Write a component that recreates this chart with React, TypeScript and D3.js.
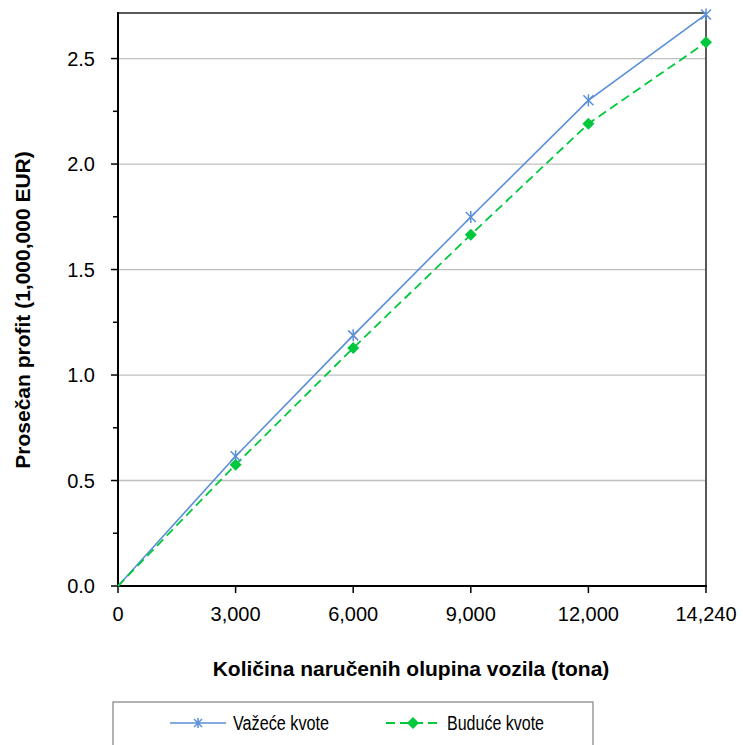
import React from "react";
import * as d3 from "d3";

const categories = ["0", "3,000", "6,000", "9,000", "12,000", "14,240"];
const vazece = [0, 0.615, 1.188, 1.749, 2.302, 2.709];
const buduce = [0, 0.575, 1.128, 1.665, 2.191, 2.577];
const yTicks = [0, 0.5, 1.0, 1.5, 2.0, 2.5];
const yMinor = [0.25, 0.75, 1.25, 1.75, 2.25];
const seriesNames = ["Važeće kvote", "Buduće kvote"];

const W = 743, H = 745;
const L = 118, R = 706, T = 13, B = 586;
const BLUE = "#5a8fd8";
const GREEN = "#00c83c";
const FONT = "'Liberation Sans', Arial, sans-serif";

function Star({ x, y, s = 5 }: { x: number; y: number; s?: number }) {
  return (
    <g stroke={BLUE} strokeWidth={1.5}>
      <line x1={x - s} y1={y - s} x2={x + s} y2={y + s} />
      <line x1={x - s} y1={y + s} x2={x + s} y2={y - s} />
      <line x1={x} y1={y - s - 1} x2={x} y2={y + s + 1} />
    </g>
  );
}
function Diamond({ x, y, s = 6 }: { x: number; y: number; s?: number }) {
  return <path d={`M${x},${y - s}L${x + s},${y}L${x},${y + s}L${x - s},${y}Z`} fill={GREEN} />;
}

export default function App() {
  const x = d3.scalePoint<string>().domain(categories).range([L, R]);
  const y = d3.scaleLinear().domain([0, 2.716]).range([B, T]);
  const line = d3.line<number>().x((_, i) => x(categories[i])!).y((d) => y(d));

  return (
    <svg width={W} height={H} style={{ position: "absolute", left: 0, top: 0 }} fontFamily={FONT}>
      <rect width={W} height={H} fill="white" />
      {yTicks.slice(1).map((t) => (
        <line key={t} x1={L} x2={R} y1={y(t)} y2={y(t)} stroke="#bfbfbf" strokeWidth={1.3} />
      ))}
      <line x1={L} x2={R} y1={T} y2={T} stroke="#595959" strokeWidth={2} />
      <line x1={R} x2={R} y1={T} y2={B} stroke="#595959" strokeWidth={2} />
      <line x1={L} x2={L} y1={T - 1} y2={B + 1} stroke="black" strokeWidth={2} />
      <line x1={L - 1} x2={R + 1} y1={B} y2={B} stroke="black" strokeWidth={2} />
      {yTicks.map((t) => (
        <g key={t}>
          <line x1={L - 7} x2={L} y1={y(t)} y2={y(t)} stroke="black" strokeWidth={1.5} />
          <text x={95} y={y(t)} dy="0.35em" textAnchor="end" fontSize={20} fill="black">
            {t.toFixed(1)}
          </text>
        </g>
      ))}
      {yMinor.map((t) => (
        <line key={t} x1={L - 5} x2={L} y1={y(t)} y2={y(t)} stroke="black" strokeWidth={1.5} />
      ))}
      {categories.map((c) => (
        <g key={c}>
          <line x1={x(c)} x2={x(c)} y1={B} y2={B + 7} stroke="black" strokeWidth={1.5} />
          <text x={x(c)} y={621} textAnchor="middle" fontSize={20} fill="black">
            {c}
          </text>
        </g>
      ))}
      <text x={411} y={676} textAnchor="middle" fontSize={21} fontWeight="bold">
        Količina naručenih olupina vozila (tona)
      </text>
      <text transform={`translate(30,310) rotate(-90)`} textAnchor="middle" fontSize={21} fontWeight="bold">
        Prosečan profit (1,000,000 EUR)
      </text>
      <path d={line(vazece)!} fill="none" stroke={BLUE} strokeWidth={1.6} />
      <path d={line(buduce)!} fill="none" stroke={GREEN} strokeWidth={1.8} strokeDasharray="9,5" />
      {vazece.map((v, i) => i > 0 && <Star key={i} x={x(categories[i])!} y={y(v)} />)}
      {buduce.map((v, i) => i > 0 && <Diamond key={i} x={x(categories[i])!} y={y(v)} />)}
      <rect x={113} y={702} width={480} height={60} fill="white" stroke="#808080" strokeWidth={1.2} />
      <line x1={170} x2={226} y1={723} y2={723} stroke={BLUE} strokeWidth={1.6} />
      <Star x={198} y={723} s={4} />
      <text x={233} y={723} dy="0.35em" fontSize={20} textLength={96} lengthAdjust="spacingAndGlyphs">
        {seriesNames[0]}
      </text>
      <line x1={386} x2={442} y1={723} y2={723} stroke={GREEN} strokeWidth={1.8} strokeDasharray="9,5" />
      <Diamond x={413} y={723} s={6} />
      <text x={447} y={723} dy="0.35em" fontSize={20} textLength={97} lengthAdjust="spacingAndGlyphs">
        {seriesNames[1]}
      </text>
    </svg>
  );
}
